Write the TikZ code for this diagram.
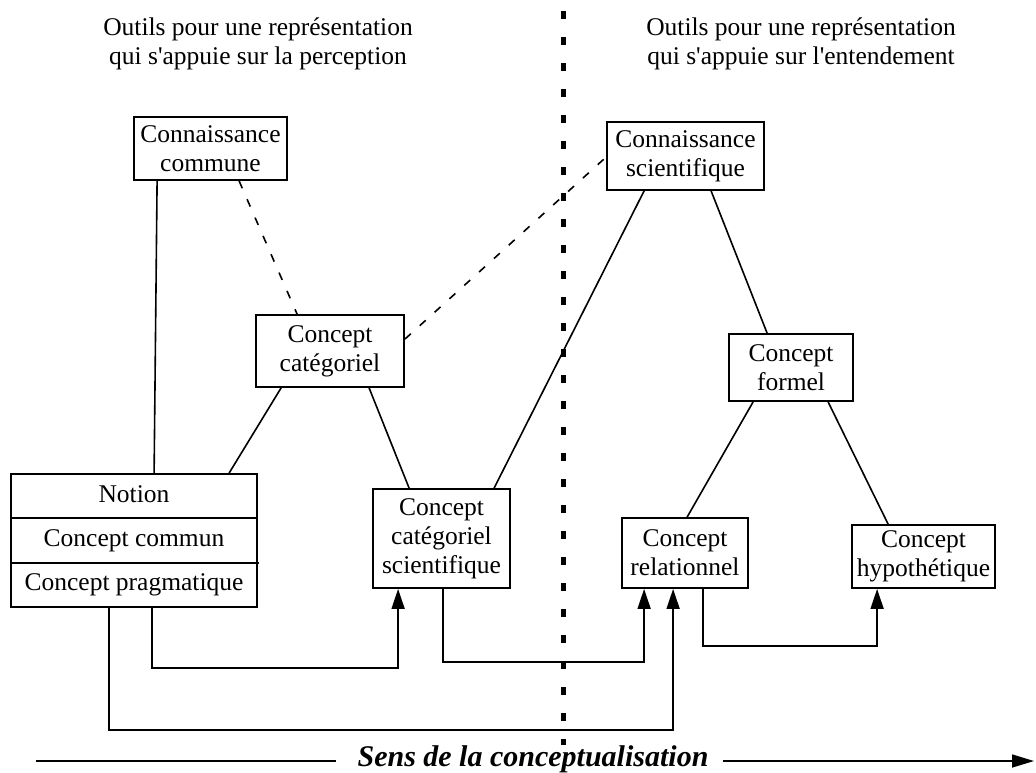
\documentclass[tikz,border=0pt]{standalone}
\usepackage{fontspec}
\setmainfont{Liberation Serif}
\usetikzlibrary{calc,arrows.meta}
\begin{document}
\begin{tikzpicture}[x=1pt,y=-1pt,
  txt/.style={font=\fontsize{25.5}{29}\selectfont},
  box/.style={txt,draw,line width=1.8pt,align=center,inner sep=0pt},
  link/.style={line width=1.6pt},
  dlink/.style={line width=1.6pt,dash pattern=on 8pt off 12pt},
  arr/.style={line width=1.6pt,-{Triangle[length=20pt,width=13pt]}},
  divider/.style={line width=5pt,dash pattern=on 8pt off 18pt},
  title/.style={txt,anchor=base,inner sep=0pt}]
\useasboundingbox (0,0) rectangle (1036,772);
% headers
\node[title] (h1) at (258,35) {Outils pour une représentation};
\node[title] (h2) at (258,64) {qui s\textquotesingle appuie sur la perception};
\node[title] (h3) at (801,35) {Outils pour une représentation};
\node[title] (h4) at (801,64) {qui s\textquotesingle appuie sur l\textquotesingle entendement};
% divider
\coordinate (dtop) at (563,11);
\coordinate (dbot) at (563,745);
\draw[divider] (dtop) -- (dbot);
% boxes
\node[box,minimum width=153pt,minimum height=63pt] (cc) at (210.5,148.5) {Connaissance\\commune};
\node[box,minimum width=148pt,minimum height=72pt] (catc) at (330,351) {Concept\\catégoriel};
\node[box,minimum width=246pt,minimum height=133pt] (notion) at (134,540.5) {};
\node[txt,anchor=base] (n1) at (134,502) {Notion};
\node[txt,anchor=base] (n2) at (134,546) {Concept commun};
\node[txt,anchor=base] (n3) at (134,590) {Concept pragmatique};
\draw[line width=1.8pt] ($(notion.north west)+(0,45)$) -- ($(notion.north east)+(0,45)$);
\draw[line width=1.8pt] ($(notion.north west)+(0,90)$) -- ($(notion.north east)+(1,90)$);
\node[box,minimum width=137pt,minimum height=99pt] (ccs) at (441.5,538.5) {Concept\\catégoriel\\scientifique};
\node[box,minimum width=157pt,minimum height=68pt] (cs) at (685.5,156) {Connaissance\\scientifique};
\node[box,minimum width=124pt,minimum height=67pt] (cf) at (791,367.5) {Concept\\formel};
\node[box,minimum width=126pt,minimum height=70pt] (cr) at (685,553) {Concept\\relationnel};
\node[box,minimum width=143pt,minimum height=63pt] (ch) at (923.5,556.5) {Concept\\hypothétique};
% links
\draw[link] ($(cc.south west)+(24,0)$) -- ($(notion.north west)+(144,0)$);
\draw[dlink] ($(cc.south west)+(106,0)$) -- ($(catc.north west)+(42,0)$);
\draw[link] ($(catc.south west)+(26,0)$) -- ($(notion.north west)+(219,0)$);
\draw[link] ($(catc.south west)+(114,0)$) -- ($(ccs.north west)+(37,0)$);
\draw[dlink] ($(catc.north east)+(0,25)$) -- ($(cs.north west)+(0,36)$);
\draw[link] ($(cs.south west)+(38,0)$) -- ($(ccs.north west)+(122,0)$);
\draw[link] ($(cs.south west)+(105,0)$) -- ($(cf.north west)+(39,0)$);
\draw[link] ($(cf.south west)+(25,0)$) -- ($(cr.north west)+(66,0)$);
\draw[link] ($(cf.south west)+(100,0)$) -- ($(ch.north west)+(37,0)$);
% arrows
\draw[arr] ($(notion.south west)+(142,0)$) -- ++(0,60) -| ($(ccs.south west)+(26,0)$);
\draw[arr] ($(notion.south west)+(99,0)$) -- ++(0,122) -| ($(cr.south west)+(52,0)$);
\draw[arr] ($(ccs.south west)+(71,0)$) -- ++(0,73) -| ($(cr.south west)+(23,0)$);
\draw[arr] ($(cr.south west)+(82,0)$) -- ++(0,57) -| ($(ch.south west)+(26,0)$);
% bottom
\node[font=\fontsize{30}{34}\selectfont\bfseries\itshape,anchor=base,inner sep=0pt] (sens) at (533,766) {Sens de la conceptualisation};
\coordinate (bl) at (36,761);
\coordinate (br) at (1034,761);
\draw[link] (bl) -- ($(sens.west |- bl)+(-21,0)$);
\draw[link,-{Triangle[length=22pt,width=13pt]}] ($(sens.east |- br)+(14,0)$) -- (br);
\end{tikzpicture}
\end{document}
